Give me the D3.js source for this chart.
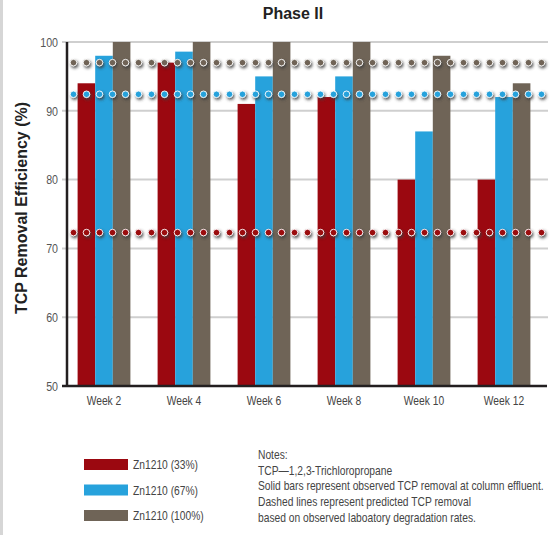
<!DOCTYPE html>
<html>
<head>
<meta charset="utf-8">
<script src="https://cdn.jsdelivr.net/npm/d3@7/dist/d3.min.js"></script>
<style>
  html, body { margin: 0; padding: 0; background: #fff; }
  svg { display: block; }
  .narrow { font-family: "Liberation Sans", Arial, sans-serif; }
</style>
</head>
<body>
<div id="chart"></div>
<script>
// Observed TCP removal efficiency (%) per sampling week
const weeks = ["Week 2", "Week 4", "Week 6", "Week 8", "Week 10", "Week 12"];
const seriesNames = ["Zn1210 (33%)", "Zn1210 (67%)", "Zn1210 (100%)"];
const zn33 = [94, 97, 91, 92, 80, 80];
const zn67 = [98, 98.6, 95, 95, 87, 92];
const zn100 = [100, 100, 100, 100, 98, 94];
// Predicted removal from laboratory degradation rates (dashed lines)
const predicted = [72.3, 92.4, 97];
const seriesColors = ["#9b0810", "#27a2dc", "#6f6457"];
const yTicks = [50, 60, 70, 80, 90, 100];
const noteLines = [
  "Notes:",
  "TCP\u20141,2,3-Trichloropropane",
  "Solid bars represent observed TCP removal at column effluent.",
  "Dashed lines represent predicted TCP removal",
  "based on observed laboatory degradation rates."
];

const W = 555, H = 535;
const values = [zn33, zn67, zn100];
const NARROW = 0.79; // horizontal squeeze giving a condensed face

const svg = d3.select("#chart").append("svg")
  .attr("width", W).attr("height", H);

// drop shadow used by the predicted-value dots
const defs = svg.append("defs");
const f = defs.append("filter").attr("id", "dotShadow")
  .attr("x", "-100%").attr("y", "-100%").attr("width", "300%").attr("height", "300%");
f.append("feDropShadow").attr("dx", 1.2).attr("dy", 1.9)
  .attr("stdDeviation", 1.5).attr("flood-color", "#3a3a3a").attr("flood-opacity", 0.9);

// thin grey border along the left edge
svg.append("rect").attr("x", 0).attr("y", 0).attr("width", 3).attr("height", H).attr("fill", "#d6d6d6");

const axisX = 67, plotRight = 548;
const y = d3.scaleLinear().domain([50, 100]).range([386, 42]);
const x0 = d3.scaleBand().domain(weeks).range([64, 544]).paddingInner(0.34).paddingOuter(0.17);
const x1 = d3.scaleBand().domain(d3.range(3)).range([0, x0.bandwidth()]);

// condensed text helper
function narrowText(sel, tx, ty) {
  return sel.attr("class", "narrow")
    .attr("transform", (d, i) => `translate(${tx(d, i)},${ty(d, i)}) scale(${NARROW},1)`);
}

// gridlines
svg.append("g").selectAll("line").data(yTicks.filter(t => t > 50)).join("line")
  .attr("x1", 62).attr("x2", plotRight)
  .attr("y1", d => y(d)).attr("y2", d => y(d))
  .attr("stroke", "#cfcfcf").attr("stroke-width", 2);

// y tick labels
narrowText(svg.append("g").selectAll("text").data(yTicks).join("text"), () => 58, d => y(d))
  .attr("dy", "0.35em").attr("text-anchor", "end").attr("font-size", 13.5).attr("fill", "#555")
  .text(d => d);

// bars
const groups = svg.append("g").selectAll("g").data(weeks).join("g")
  .attr("transform", w => `translate(${x0(w)},0)`);
groups.selectAll("rect").data((w, i) => values.map((s, k) => ({ k, v: s[i] }))).join("rect")
  .attr("x", d => x1(d.k)).attr("width", x1.bandwidth())
  .attr("y", d => y(d.v)).attr("height", d => y(50) - y(d.v))
  .attr("fill", d => seriesColors[d.k]);

// predicted removal shown as dotted lines across the plot
const dotXs = d3.range(axisX + 6.5, plotRight - 3, 13);
predicted.forEach((p, k) => {
  svg.append("g").attr("filter", "url(#dotShadow)")
    .selectAll("circle").data(dotXs).join("circle")
    .attr("cx", d => d).attr("cy", y(p)).attr("r", 3.3)
    .attr("fill", seriesColors[k]).attr("stroke", "#ffffff").attr("stroke-width", 0.9);
});

// axis lines
svg.append("line").attr("x1", 62).attr("x2", 547).attr("y1", y(50)).attr("y2", y(50))
  .attr("stroke", "#231f20").attr("stroke-width", 2.5);
svg.append("line").attr("x1", axisX).attr("x2", axisX).attr("y1", y(100)).attr("y2", y(50))
  .attr("stroke", "#231f20").attr("stroke-width", 2.5);

// week labels
narrowText(svg.append("g").selectAll("text").data(weeks).join("text"),
    w => x0(w) + x0.bandwidth() / 2, () => 405)
  .attr("text-anchor", "middle").attr("font-size", 13).attr("fill", "#444")
  .text(w => w);

// title
svg.append("text").attr("x", 293).attr("y", 19).attr("text-anchor", "middle")
  .attr("font-family", "Liberation Sans, Arial, sans-serif").attr("font-weight", "bold")
  .attr("font-size", 16).attr("fill", "#222").text("Phase II");

// y axis title
svg.append("text").attr("transform", "translate(27,208) rotate(-90)")
  .attr("text-anchor", "middle")
  .attr("font-family", "Liberation Sans, Arial, sans-serif").attr("font-weight", "bold")
  .attr("font-size", 16).attr("fill", "#222").text("TCP Removal Efficiency (%)");

// legend
const legend = svg.append("g");
legend.selectAll("rect").data(seriesNames).join("rect")
  .attr("x", 84).attr("y", (d, k) => 459 + k * 25.5).attr("width", 44).attr("height", 11)
  .attr("fill", (d, k) => seriesColors[k]);
narrowText(legend.selectAll("text").data(seriesNames).join("text"),
    () => 133, (d, k) => 459 + k * 25.5 + 5.5)
  .attr("dy", "0.35em").attr("font-size", 13).attr("fill", "#444").text(d => d);

// notes
narrowText(svg.append("g").selectAll("text").data(noteLines).join("text"),
    () => 258, (d, i) => 459 + i * 15.7)
  .attr("font-size", 13).attr("fill", "#444").text(d => d);
</script>
</body>
</html>
